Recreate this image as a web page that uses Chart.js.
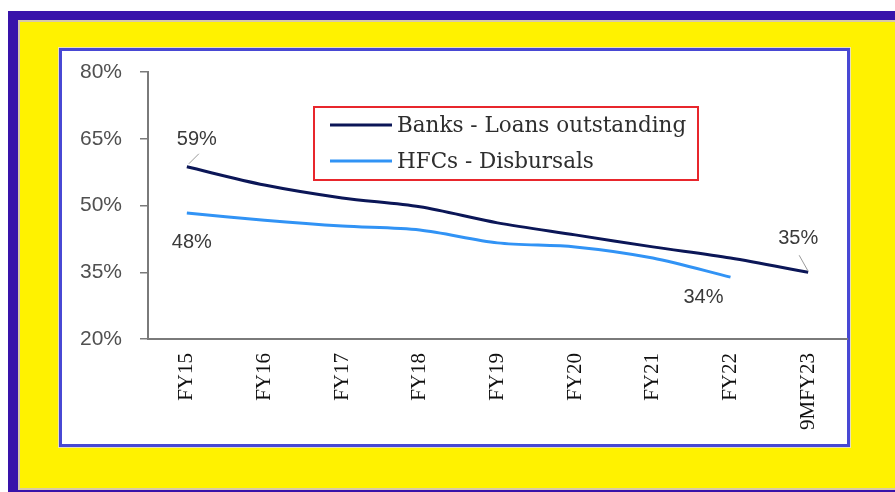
<!DOCTYPE html>
<html><head><meta charset="utf-8">
<script src="https://cdn.jsdelivr.net/npm/chart.js@4.4.0/dist/chart.umd.min.js"></script>
<style>html,body{margin:0;padding:0;background:#fff;overflow:hidden}#wrap{width:895px;height:492px;position:relative}</style>
</head><body><div id="wrap"><canvas id="c" width="895" height="492"></canvas></div>
<script>
const categories = ['FY15','FY16','FY17','FY18','FY19','FY20','FY21','FY22','9MFY23'];
const banksLoans = [58.7, 54.6, 51.7, 49.7, 46.1, 43.4, 40.7, 38.2, 35.0];
const hfcDisbursals = [48.3, 46.7, 45.4, 44.5, 41.6, 40.7, 38.2, 33.9, null];
const yTickValues = [20, 35, 50, 65, 80];
const seriesNames = ['Banks - Loans outstanding', 'HFCs - Disbursals'];
const labelTexts = ['59%', '48%', '34%', '35%'];

const labelSpecs = [
  {ds:0, idx:0, text:labelTexts[0], dx:10, dy:-27, leader:[2,-3,12,-13]},
  {ds:1, idx:0, text:labelTexts[1], dx:5, dy:29, leader:null},
  {ds:1, idx:7, text:labelTexts[2], dx:-27, dy:20, leader:null},
  {ds:0, idx:8, text:labelTexts[3], dx:-10, dy:-34, leader:[0,-1,-9,-17]}
];

const bgPlugin = {
  id:'bg',
  beforeDraw(chart){
    const ctx = chart.ctx;
    ctx.save();
    ctx.fillStyle = '#ffffff'; ctx.fillRect(0,0,895,492);
    ctx.fillStyle = '#3813aa'; ctx.fillRect(8,11,887,481);
    ctx.fillStyle = '#d8c9a8'; ctx.fillRect(18,20,877,470);
    ctx.fillStyle = '#fff200'; ctx.fillRect(20,22,875,466);
    ctx.fillStyle = '#e8e0b8'; ctx.fillRect(58,47,793,401);
    ctx.fillStyle = '#4848d4'; ctx.fillRect(59,48,791,399);
    ctx.fillStyle = '#ffffff'; ctx.fillRect(62,51,785,393);
    ctx.restore();
  }
};

const annotPlugin = {
  id:'annot',
  afterDatasetsDraw(chart){
    const ctx = chart.ctx;
    ctx.save();
    labelSpecs.forEach(s => {
      const pt = chart.getDatasetMeta(s.ds).data[s.idx];
      if(!pt) return;
      if(s.leader){
        ctx.strokeStyle = '#9a9a9a'; ctx.lineWidth = 1;
        ctx.beginPath();
        ctx.moveTo(pt.x + s.leader[0], pt.y + s.leader[1]);
        ctx.lineTo(pt.x + s.leader[2], pt.y + s.leader[3]);
        ctx.stroke();
      }
      ctx.font = '20px "Liberation Sans", Arial, sans-serif'; ctx.fillStyle = '#3a3a3a';
      ctx.textAlign = 'center'; ctx.textBaseline = 'middle';
      ctx.fillText(s.text, pt.x + s.dx, pt.y + s.dy);
    });
    // legend box
    ctx.strokeStyle = '#e8262c'; ctx.lineWidth = 2;
    ctx.strokeRect(314, 107, 384, 73);
    const colors = chart.data.datasets.map(d => d.borderColor);
    const rows = [125, 161];
    ctx.font = '21.5px "DejaVu Serif", serif';
    ctx.textAlign = 'left'; ctx.textBaseline = 'middle';
    rows.forEach((y, i) => {
      ctx.strokeStyle = colors[i]; ctx.lineWidth = 3;
      ctx.beginPath(); ctx.moveTo(330, y); ctx.lineTo(392, y); ctx.stroke();
      ctx.fillStyle = '#2e2e2e';
      ctx.fillText(seriesNames[i], 397, y + 1);
    });
    ctx.restore();
  }
};

new Chart(document.getElementById('c'), {
  type:'line',
  data:{
    labels: categories,
    datasets:[
      {label:seriesNames[0], data:banksLoans, borderColor:'#0b1657', borderWidth:3, pointRadius:0, tension:0.3, fill:false},
      {label:seriesNames[1], data:hfcDisbursals, borderColor:'#3193f5', borderWidth:3, pointRadius:0, tension:0.3, fill:false}
    ]
  },
  options:{
    responsive:false, animation:false, devicePixelRatio:1,
    layout:{padding:{left:60, top:72, right:48, bottom:53}},
    plugins:{legend:{display:false}, tooltip:{enabled:false}},
    scales:{
      x:{
        type:'category', offset:true,
        grid:{display:true, drawOnChartArea:false, drawTicks:false},
        border:{color:'#7a7a7a', width:2},
        ticks:{minRotation:90, maxRotation:90, autoSkip:false, padding:14, color:'#111',
               font:{family:'"Liberation Serif", serif', size:21}},
        afterFit(s){ s.height = 100; }
      },
      y:{
        min:20, max:80,
        afterBuildTicks(s){ s.ticks = yTickValues.map(v => ({value:v})); },
        grid:{drawOnChartArea:false, drawTicks:true, tickLength:8, color:'#7a7a7a', lineWidth:1.5},
        border:{color:'#7a7a7a', width:2},
        ticks:{padding:18, color:'#505050', callback:v => v + '%',
               font:{family:'"Liberation Sans", Arial, sans-serif', size:21}},
        afterFit(s){ s.width = 88; }
      }
    }
  },
  plugins:[bgPlugin, annotPlugin]
});
</script></body></html>
